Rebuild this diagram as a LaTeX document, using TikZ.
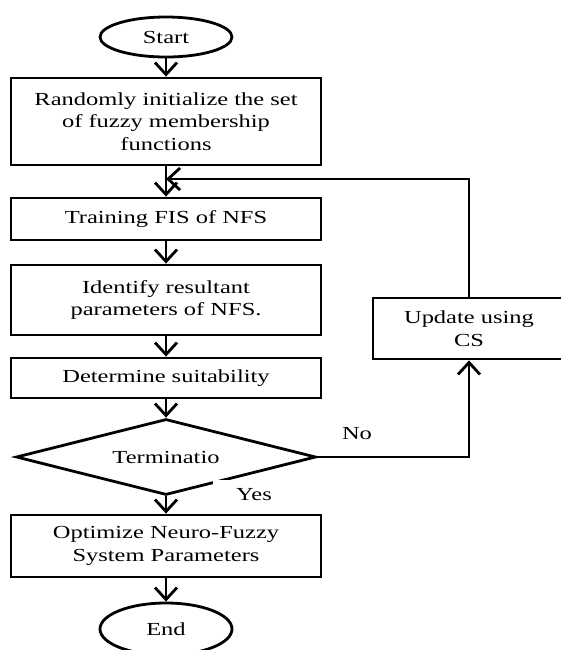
\documentclass[tikz,border=0pt]{standalone}
\usepackage{fontspec}
\setmainfont{Liberation Serif}[FakeStretch=1.33]
\usetikzlibrary{shapes.geometric,arrows.meta}

\begin{document}
\begin{tikzpicture}[x=0.5pt,y=-0.5pt,
  every node/.style={font=\fontsize{9.2}{11.3}\selectfont, inner sep=0pt},
  flowline/.style={line width=1.4pt},
  arr/.style={flowline,-{Straight Barb[length=6pt,width=11pt]}},
  procbox/.style={draw, line width=1.4pt, minimum width=155pt, align=center},
  terminal/.style={draw, ellipse, line width=1.4pt, minimum width=66pt, minimum height=20pt},
  decision/.style={draw, diamond, line width=1.4pt, aspect=3.95,
                   minimum width=150pt, minimum height=38pt}]
\clip (0,0) rectangle (561,650);

% main column
\node[terminal] (start) at (166,37) {Start};
\node[procbox, minimum height=43.5pt] (init) at (166,121.5)
  {Randomly initialize the set\\of fuzzy membership\\functions};
\node[procbox, minimum height=21pt] (train) at (166,219) {Training FIS of NFS};
\node[procbox, minimum height=35pt] (ident) at (166,300)
  {Identify resultant\\parameters of NFS.};
\node[procbox, minimum height=20pt] (suit) at (166,378) {Determine suitability};
\node[decision] (term) at (166,457) {Terminatio};
\node[procbox, minimum height=31pt] (opt) at (166,546)
  {Optimize Neuro-Fuzzy\\System Parameters};
\node[terminal, minimum height=26pt] (end) at (166,629) {End};

% feedback branch
\node[draw, line width=1.4pt, minimum width=96pt, minimum height=30.5pt, align=center]
  (upd) at (469,328.5) {Update using\\CS};
\coordinate (join) at (166,179);

% connectors
\draw[arr] (start) -- (init);
\draw[arr] (init) -- (train);
\draw[arr] (upd.north) |- (join);
\draw[arr] (train) -- (ident);
\draw[arr] (ident) -- (suit);
\draw[arr] (suit) -- (term);
\draw[arr] (term.east) -| (upd.south);
\draw[arr] (term) -- (opt);
\draw[arr] (opt) -- (end);

% branch labels
\node (no) at (357,434) {No};
\node[fill=white, minimum width=41pt, minimum height=15pt] (yes) at (254,495) {Yes};
\end{tikzpicture}
\end{document}
